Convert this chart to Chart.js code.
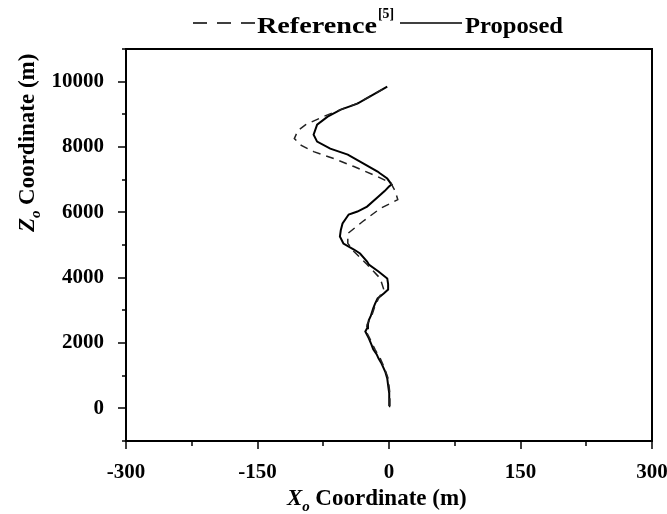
<!DOCTYPE html>
<html>
<head>
<meta charset="utf-8">
<script src="https://cdn.jsdelivr.net/npm/chart.js@4.4.0/dist/chart.umd.min.js"></script>
<style>
  html, body { margin: 0; padding: 0; background: #fff; }
</style>
</head>
<body>
<canvas id="myChart" width="667" height="514"></canvas>
<script>
// Datos (Z en m, X en m)
var zProposed = [60, 250, 460, 700, 917, 1100, 1223, 1400, 1529, 1650, 1804, 1950, 2141, 2355, 2450, 2569, 2700, 2813, 3058, 3200, 3364, 3517, 3639, 3800, 3976, 4190, 4404, 4495, 4740, 4862, 5046, 5260, 5450, 5657, 5933, 6024, 6177, 6483, 6650, 6789, 6850, 7034, 7187, 7248, 7492, 7768, 7951, 8165, 8379, 8685, 8930, 9144, 9327, 9602, 9847];
var xProposed = [0, 0, 0.5, -1, -2, -4, -6, -9, -12, -14, -18, -20, -23, -27, -25, -24, -23, -21, -18, -16, -13, -6, -1, -1, -2, -12, -23, -25, -33, -40, -52, -56, -55, -53, -46, -36, -25, -12, -5, 0, 3, -2, -10, -13, -29, -47, -67, -82, -86, -82, -70, -55, -36, -18, -2];

var zReference = [60, 460, 917, 1223, 1529, 1804, 2141, 2355, 2569, 2813, 3058, 3364, 3639, 3976, 4404, 4801, 5050, 5352, 5719, 6116, 6391, 6650, 6900, 7095, 7401, 7645, 7859, 8050, 8257, 8500, 8685, 8930, 9144, 9327, 9602, 9847];
var xReference = [1, 1, -1, -5, -10, -16, -22, -26, -25, -20, -17, -12, -6, -10, -25, -40, -47, -47, -30, -10, 10, 7, 2, -13, -40, -63, -86, -100, -108, -104, -95, -75, -55, -37, -18, -2];

// Etiquetas de los ejes
var xTicks = [-300, -150, 0, 150, 300];
var xMinorTicks = [-225, -75, 75, 225];
var yTicks = [0, 2000, 4000, 6000, 8000, 10000];
var yMinorTicks = [-1000, 1000, 3000, 5000, 7000, 9000, 11000];

function toPoints(xs, zs) {
    return xs.map(function (x, i) { return { x: x, y: zs[i] }; });
}

var serif = '"Liberation Serif", "Times New Roman", Times, serif';

// dibuja un texto ajustado a un ancho dado
function drawWord(ctx, text, x, y, font, width) {
    ctx.font = font;
    var w = ctx.measureText(text).width;
    var s = width ? width / w : 1;
    ctx.save();
    ctx.translate(x, y);
    ctx.scale(s, 1);
    ctx.fillText(text, 0, 0);
    ctx.restore();
    return w * s;
}

function drawAxisTitle(ctx, letter) {
    var x = 0;
    x += drawWord(ctx, letter, x, 0, 'italic bold 23px ' + serif);
    drawWord(ctx, 'o', x, 6, 'italic bold 15px ' + serif);
    x += 8 + 5;
    drawWord(ctx, 'Coordinate (m)', x, 0, 'bold 23px ' + serif);
}

var decoPlugin = {
    id: 'deco',
    afterDraw: function (chart) {
        var ctx = chart.ctx, a = chart.chartArea;
        var sx = chart.scales.x, sy = chart.scales.y;
        ctx.save();
        ctx.strokeStyle = '#000';
        ctx.fillStyle = '#000';
        ctx.lineWidth = 2;
        ctx.strokeRect(a.left, a.top, a.right - a.left, a.bottom - a.top);

        // marcas de los ejes
        ctx.lineWidth = 1.5;
        ctx.beginPath();
        xTicks.forEach(function (v) {
            var p = Math.round(sx.getPixelForValue(v));
            ctx.moveTo(p, a.bottom); ctx.lineTo(p, a.bottom + 8);
        });
        xMinorTicks.forEach(function (v) {
            var p = Math.round(sx.getPixelForValue(v));
            ctx.moveTo(p, a.bottom); ctx.lineTo(p, a.bottom + 5);
        });
        yTicks.forEach(function (v) {
            var p = Math.round(sy.getPixelForValue(v));
            ctx.moveTo(a.left, p); ctx.lineTo(a.left - 8, p);
        });
        yMinorTicks.forEach(function (v) {
            var p = Math.round(sy.getPixelForValue(v));
            ctx.moveTo(a.left, p); ctx.lineTo(a.left - 4, p);
        });
        ctx.stroke();

        // titulos de los ejes
        ctx.textBaseline = 'alphabetic';
        ctx.save();
        ctx.translate(287, 505);
        drawAxisTitle(ctx, 'X');
        ctx.restore();

        ctx.save();
        ctx.translate(34, 232);
        ctx.rotate(-Math.PI / 2);
        drawAxisTitle(ctx, 'Z');
        ctx.restore();

        // leyenda
        ctx.lineWidth = 1.5;
        ctx.setLineDash([14, 10]);
        ctx.beginPath();
        ctx.moveTo(193, 23); ctx.lineTo(256, 23);
        ctx.stroke();
        ctx.setLineDash([]);
        ctx.beginPath();
        ctx.moveTo(400, 23); ctx.lineTo(462, 23);
        ctx.stroke();
        drawWord(ctx, 'Reference', 257, 33, 'bold 23px ' + serif, 120);
        drawWord(ctx, '[5]', 378, 18, 'bold 14px ' + serif, 16);
        drawWord(ctx, 'Proposed', 465, 33, 'bold 23px ' + serif, 98);
        ctx.restore();
    }
};

function makeChart() {
    var ctx = document.getElementById('myChart').getContext('2d');
    var myChart = new Chart(ctx, {
        type: 'scatter',
        data: {
            datasets: [{
                label: 'Reference[5]',
                data: toPoints(xReference, zReference),
                showLine: true,
                borderColor: '#222',
                borderWidth: 1.5,
                borderDash: [8, 6],
                pointRadius: 0,
                tension: 0
            }, {
                label: 'Proposed',
                data: toPoints(xProposed, zProposed),
                showLine: true,
                borderColor: '#000',
                borderWidth: 2,
                pointRadius: 0,
                tension: 0
            }]
        },
        options: {
            responsive: false,
            animation: false,
            devicePixelRatio: 1,
            layout: { padding: { left: 0, right: 15, top: 49, bottom: 0 } },
            plugins: {
                legend: { display: false },
                tooltip: { enabled: false }
            },
            scales: {
                x: {
                    type: 'linear',
                    min: -300,
                    max: 300,
                    afterBuildTicks: function (scale) {
                        scale.ticks = xTicks.map(function (v) { return { value: v }; });
                    },
                    afterFit: function (scale) {
                        scale.height = 73;
                        scale.paddingLeft = 0;
                        scale.paddingRight = 0;
                    },
                    grid: { display: false },
                    border: { display: false },
                    ticks: {
                        color: '#000',
                        padding: 11,
                        maxRotation: 0,
                        callback: function (v) { return String(v); },
                        font: { family: serif, size: 21, weight: 'bold' }
                    }
                },
                y: {
                    type: 'linear',
                    min: -1000,
                    max: 11000,
                    afterBuildTicks: function (scale) {
                        scale.ticks = yTicks.map(function (v) { return { value: v }; });
                    },
                    afterFit: function (scale) {
                        scale.width = 126;
                        scale.paddingTop = 0;
                        scale.paddingBottom = 0;
                    },
                    grid: { display: false },
                    border: { display: false },
                    ticks: {
                        color: '#000',
                        padding: 14,
                        callback: function (v) { return String(v); },
                        font: { family: serif, size: 21, weight: 'bold' }
                    }
                }
            }
        },
        plugins: [decoPlugin]
    });
}

makeChart();
</script>
</body>
</html>
